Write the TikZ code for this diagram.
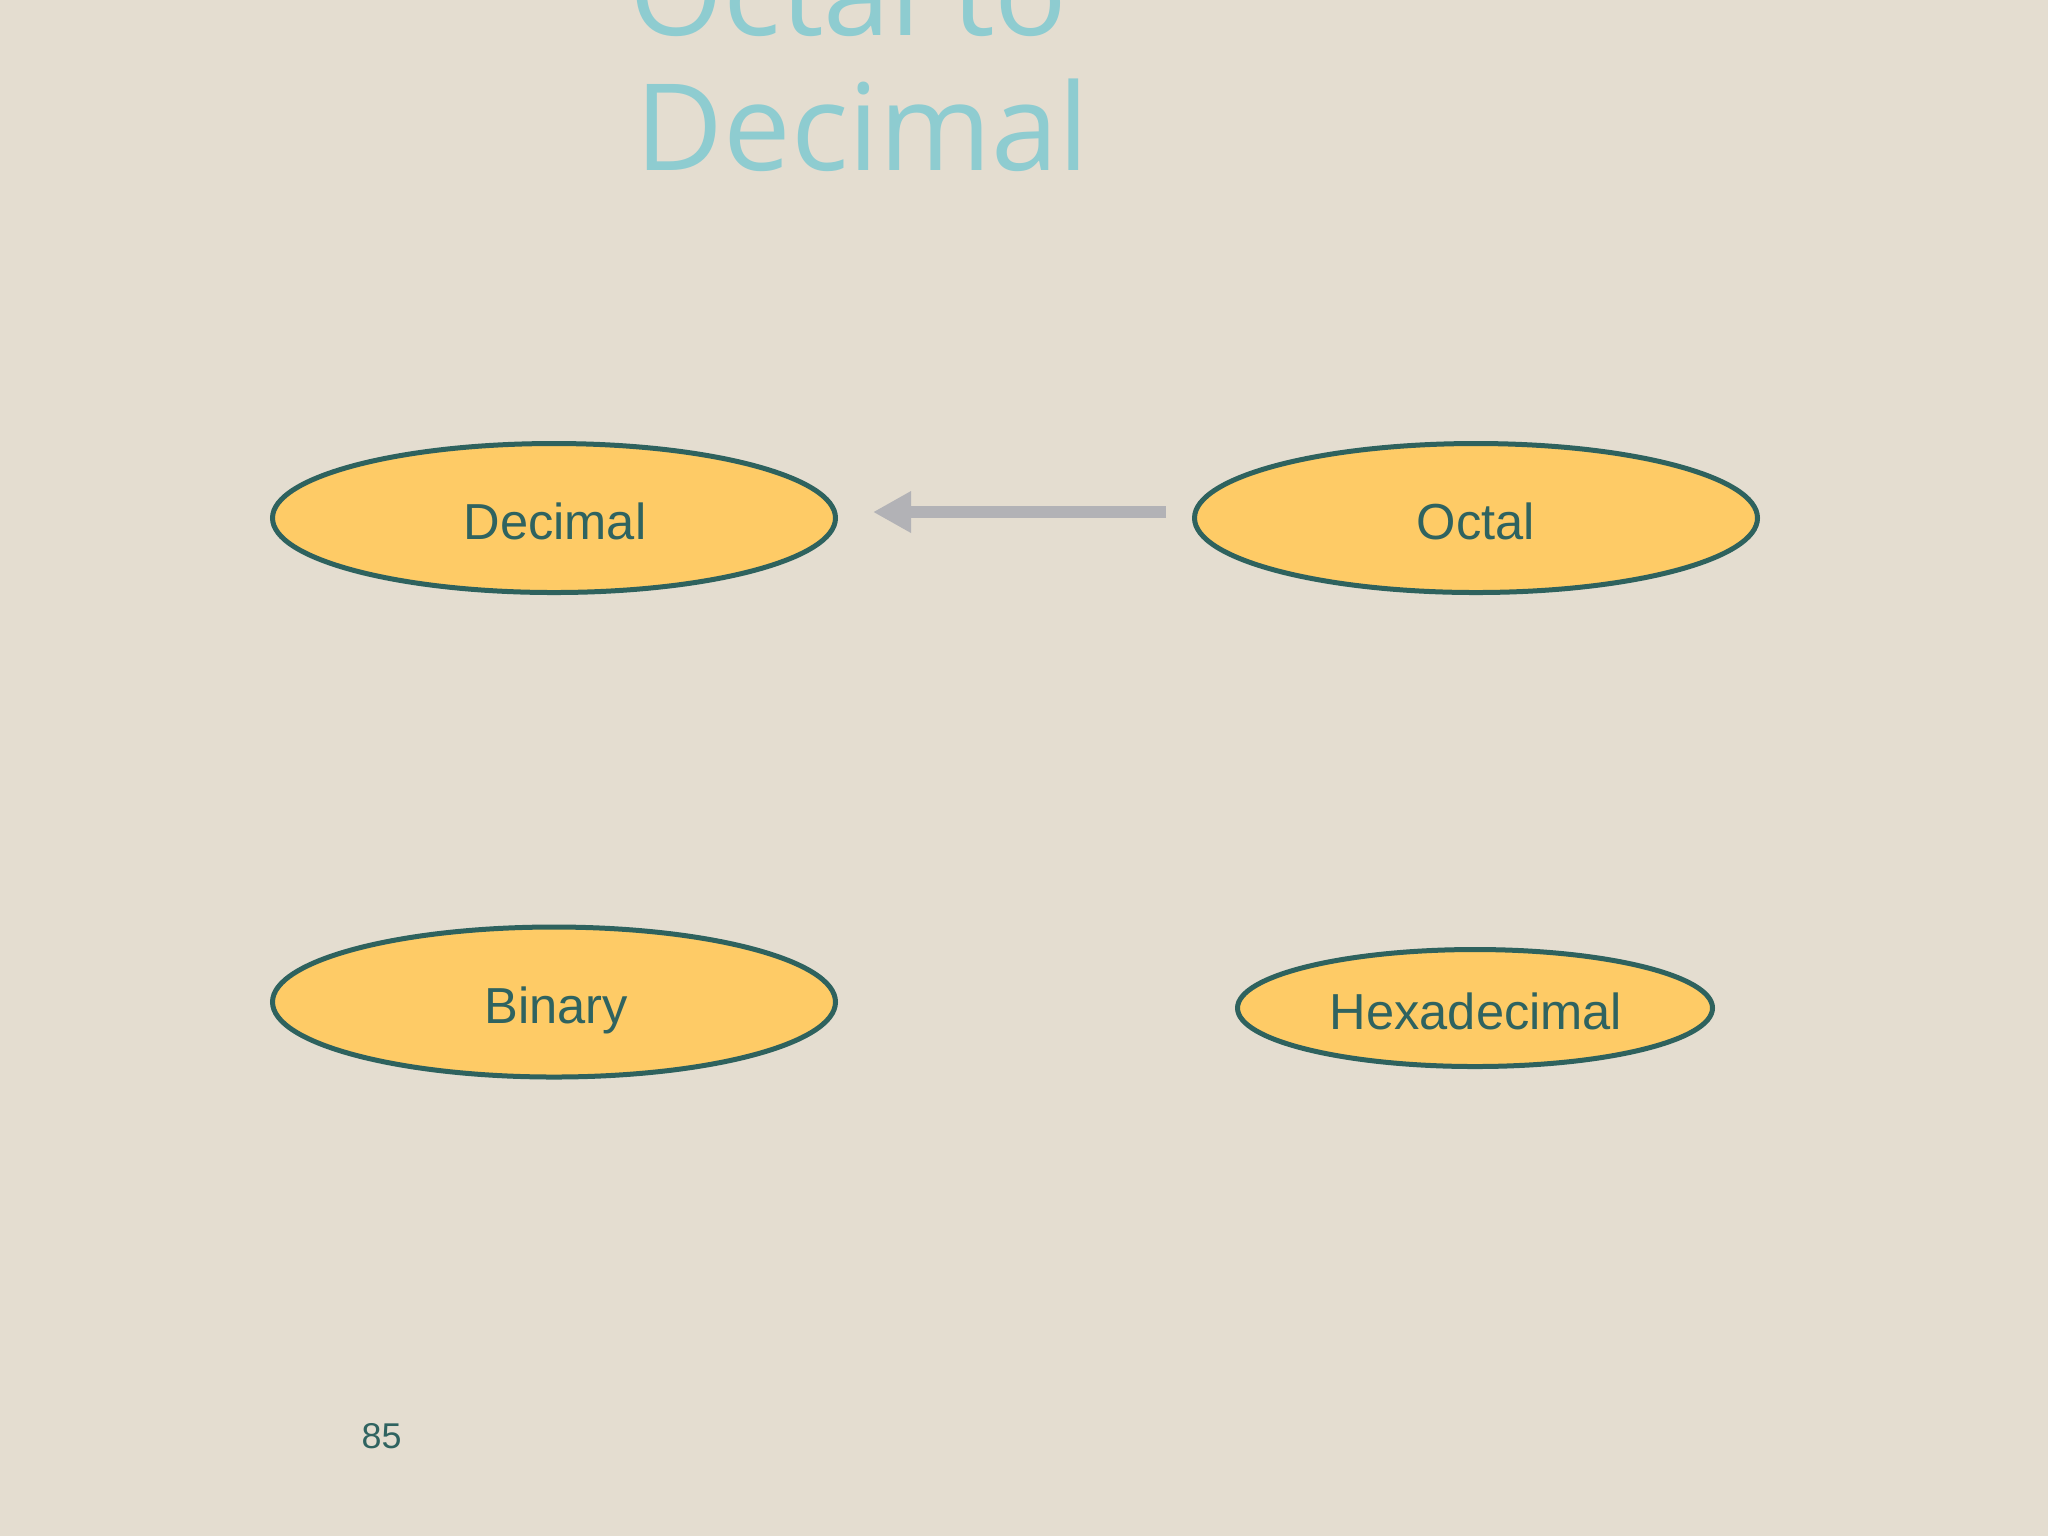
\documentclass[tikz,border=0pt]{standalone}
\usepackage{fontspec}
\setmainfont{Liberation Sans}
\newfontfamily\titlefont{Open Sans}
\usetikzlibrary{shapes.geometric,arrows.meta}
\definecolor{bgbeige}{RGB}{228,221,208}
\definecolor{ovalfill}{RGB}{254,203,102}
\definecolor{ovaledge}{RGB}{46,98,94}
\definecolor{ovaltext}{RGB}{47,99,96}
\definecolor{titleteal}{RGB}{142,204,208}
\definecolor{arrowgray}{RGB}{178,178,182}
\tikzset{
  oval/.style={ellipse, draw=ovaledge, fill=ovalfill, line width=0.5mm, inner sep=0pt},
  ovallabel/.style={anchor=base, text=ovaltext, inner sep=0pt, font=\fontsize{14.4}{17}\selectfont},
  titletext/.style={anchor=base west, text=titleteal, inner sep=0pt, font=\titlefont\fontsize{34.3}{39}\selectfont},
  bigarrow/.style={draw=arrowgray, line width=1.2mm, -{Triangle[length=3.8mm,width=3.9mm]}},
  pagenum/.style={anchor=base west, text=ovaltext, inner sep=0pt, font=\fontsize{10.2}{12}\selectfont}
}
\begin{document}
\begin{tikzpicture}[x=0.1mm,y=-0.1mm]
\fill[bgbeige] (0,0) rectangle (2048,1536);
\useasboundingbox (0,0) rectangle (2048,1536);
% title
\node[titletext] (title1) at (629,35) {Octal to};
\node[titletext] (title2) at (635,170) {Decimal};
% ovals
\node[oval, minimum width=56.3mm, minimum height=14.9mm] (dec) at (554,518) {};
\node[oval, minimum width=56.3mm, minimum height=14.9mm] (oct) at (1476,518) {};
\node[oval, minimum width=56.3mm, minimum height=15.0mm] (bin) at (554,1002) {};
\node[oval, minimum width=47.5mm, minimum height=11.7mm] (hex) at (1475,1008) {};
% labels
\node[ovallabel] (dectext) at (555,539) {Decimal};
\node[ovallabel] (octtext) at (1476,539) {Octal};
\node[ovallabel] (bintext) at (556,1023) {Binary};
\node[ovallabel] (hextext) at (1476,1029) {Hexadecimal};
% arrow
\draw[bigarrow] ([shift={(-26,-6)}]oct.west) -- ([shift={(35,-6)}]dec.east);
% page number
\node[pagenum] (page) at (361,1448) {85};
\end{tikzpicture}
\end{document}
